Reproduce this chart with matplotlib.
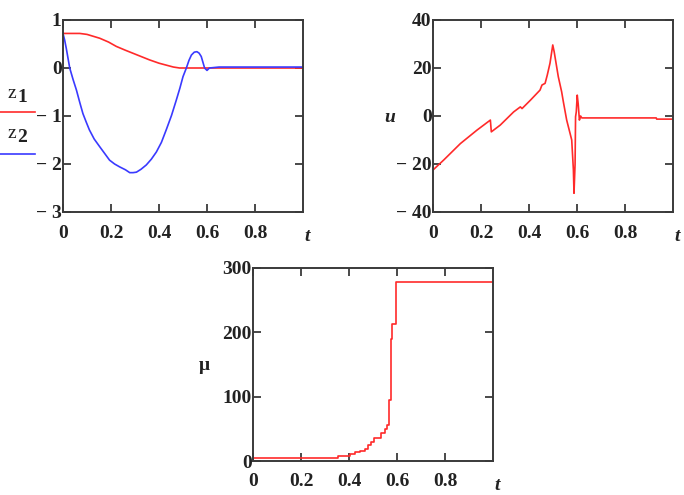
import matplotlib
matplotlib.use("Agg")
import matplotlib.pyplot as plt
from matplotlib.lines import Line2D

# ---- data ----
t_z1 = [0, 0.07, 0.10, 0.153, 0.19, 0.222, 0.26, 0.29, 0.33, 0.36, 0.40, 0.43, 0.46, 0.486, 1.0]
z1 = [0.72, 0.72, 0.70, 0.62, 0.54, 0.45, 0.37, 0.31, 0.23, 0.17, 0.10, 0.06, 0.02, 0.0, 0.0]

t_z2 = [0, 0.007, 0.014, 0.021, 0.028, 0.042, 0.056, 0.07, 0.083, 0.097, 0.11, 0.13, 0.153, 0.175,
        0.194, 0.215, 0.236, 0.26, 0.278, 0.292, 0.306, 0.325, 0.347, 0.368, 0.389, 0.41, 0.43,
        0.452, 0.472, 0.487, 0.5, 0.514, 0.525, 0.535, 0.547, 0.558, 0.567, 0.576, 0.583, 0.59,
        0.6, 0.61, 0.65, 1.0]
z2 = [0.72, 0.58, 0.40, 0.20, 0.0, -0.24, -0.46, -0.72, -0.95, -1.13, -1.29, -1.48, -1.64, -1.79,
      -1.92, -2.0, -2.06, -2.12, -2.18, -2.18, -2.17, -2.11, -2.02, -1.9, -1.75, -1.55, -1.29,
      -0.99, -0.67, -0.42, -0.18, 0.0, 0.16, 0.27, 0.33, 0.34, 0.31, 0.24, 0.12, 0.0,
      -0.05, 0.0, 0.02, 0.02]

t_u = [0, 0.044, 0.114, 0.183, 0.239, 0.243, 0.28, 0.336, 0.364, 0.371, 0.406, 0.446, 0.454, 0.467,
       0.476, 0.4875, 0.499, 0.505, 0.522, 0.536, 0.543, 0.557, 0.571, 0.578, 0.585, 0.5875, 0.592,
       0.594, 0.597, 0.601, 0.605, 0.61, 0.615, 0.62, 0.93, 0.932, 1.0]
u = [-22.5, -18.4, -11.5, -5.9, -1.7, -6.6, -3.8, 1.7, 3.8, 3.1, 6.6, 10.8, 12.9, 13.6,
     17, 22, 29.6, 26.7, 16.4, 10.1, 6, -1.7, -7.2, -10, -22.5, -32.2, -20,
     -0.3, 1.7, 8.7, 5, -1.7, 0, -0.8, -0.8, -1.3, -1.3]

t_mu = [0, 0.356, 0.404, 0.425, 0.446, 0.467, 0.48, 0.49, 0.504, 0.535, 0.55, 0.557, 0.568,
        0.573, 0.576, 0.58, 0.597, 1.0]
mu = [5, 7.8, 10.4, 13.5, 15.5, 19.2, 24.9, 30, 35.2, 44, 49, 56, 95, 162, 190, 213, 279, 279]

xticks = [0, 0.2, 0.4, 0.6, 0.8]
xticklabels = ["0", "0.2", "0.4", "0.6", "0.8"]
z_yticks = [-3, -2, -1, 0, 1]
z_yticklabels = ["\u2212 3", "\u2212 2", "\u2212 1", "0", "1"]
u_yticks = [-40, -20, 0, 20, 40]
u_yticklabels = ["\u2212 40", "\u2212 20", "0", "20", "40"]
mu_yticks = [0, 100, 200, 300]
mu_yticklabels = ["0", "100", "200", "300"]

RED = "#ff2a2a"
BLUE = "#3a3aff"
SPINE = "#3a3a3a"
FONT = "Liberation Serif"
FS = 14

fig = plt.figure(figsize=(6.84, 4.95), dpi=100)
W, H = 684, 495


def make_ax(left, top, right, bottom):
    return fig.add_axes([left / W, 1 - bottom / H, (right - left) / W, (bottom - top) / H])


def style(ax, ylim, yticks, ylabels):
    ax.set_xlim(0, 1)
    ax.set_ylim(*ylim)
    ax.set_xticks(xticks)
    ax.set_xticklabels(xticklabels)
    ax.set_yticks(yticks)
    ax.set_yticklabels(ylabels)
    for s in ax.spines.values():
        s.set_color(SPINE)
        s.set_linewidth(1.4)
    ax.tick_params(direction="in", length=6, width=1.3, color=SPINE,
                   top=True, right=True, labelsize=FS)
    ax.tick_params(axis="x", pad=9)
    ax.tick_params(axis="y", pad=1)
    for lab in ax.get_xticklabels() + ax.get_yticklabels():
        lab.set_fontfamily(FONT)
        lab.set_fontweight("bold")
        lab.set_color("#222222")
    ax.annotate("t", xy=(1, 0), xycoords="axes fraction", xytext=(3, -17.5),
                textcoords="offset points", ha="center", va="center",
                fontsize=FS, fontstyle="italic", fontweight="bold", family=FONT, color="#222222")


# top-left: z1, z2
ax1 = make_ax(63, 20, 303, 212)
ax1.plot(t_z1, z1, color=RED, lw=1.2)
ax1.plot(t_z2, z2, color=BLUE, lw=1.2)
style(ax1, (-3, 1), z_yticks, z_yticklabels)

# legend outside on the left
fig.text(7 / W, 1 - 93 / H, "z", fontsize=14, family=FONT, color="#222222", ha="left", va="center")
fig.text(17 / W, 1 - 98 / H, "1", fontsize=14, family=FONT, fontweight="bold", color="#222222",
         ha="left", va="center")
fig.text(7 / W, 1 - 133 / H, "z", fontsize=14, family=FONT, color="#222222", ha="left", va="center")
fig.text(17 / W, 1 - 138 / H, "2", fontsize=14, family=FONT, fontweight="bold", color="#222222",
         ha="left", va="center")
fig.add_artist(Line2D([0, 35 / W], [1 - 112 / H, 1 - 112 / H], color=RED, lw=1.2))
fig.add_artist(Line2D([0, 35 / W], [1 - 154 / H, 1 - 154 / H], color=BLUE, lw=1.2))

# top-right: u
ax2 = make_ax(433, 20, 673, 212)
ax2.plot(t_u, u, color=RED, lw=1.2)
style(ax2, (-40, 40), u_yticks, u_yticklabels)
fig.text(390 / W, 1 - 118 / H, "u", fontsize=FS, fontstyle="italic", fontweight="bold",
         family=FONT, color="#222222", ha="center", va="center")

# bottom: mu
ax3 = make_ax(253, 268, 493, 461)
ax3.step(t_mu, mu, where="post", color=RED, lw=1.2)
style(ax3, (0, 300), mu_yticks, mu_yticklabels)
fig.text(204 / W, 1 - 366 / H, "\u03bc", fontsize=FS, fontweight="bold",
         family=FONT, color="#222222", ha="center", va="center")

fig.savefig("out.png", dpi=100)
